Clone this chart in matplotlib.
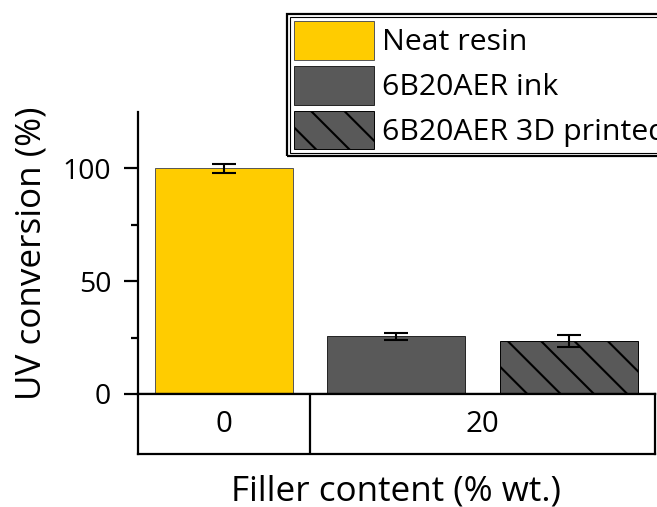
import matplotlib
matplotlib.use("Agg")
import matplotlib.pyplot as plt
from matplotlib.patches import Rectangle

# ---- data ----
series_labels = ["Neat resin", "6B20AER ink", "6B20AER 3D printed"]
bar_values = [100.0, 25.5, 23.5]
bar_errors = [2.1, 1.5, 2.5]
group_labels = ["0", "20"]
y_ticks = [0, 50, 100]

colors = ["#FFCC00", "#595959", "#595959"]
edge_colors = ["#555555", "#222222", "black"]
hatches = [None, None, "\\\\"]

DPI = 200
plt.rcParams['font.family'] = ['Open Sans', 'DejaVu Sans']
plt.rcParams['hatch.linewidth'] = 0.75

fig = plt.figure(figsize=(657 / DPI, 507 / DPI), dpi=DPI)
W, H = 657, 507

def fr(x0, y0, x1, y1):
    return [x0 / W, 1 - y1 / H, (x1 - x0) / W, (y1 - y0) / H]

ax = fig.add_axes(fr(137.5, 112, 655, 394))
axb = fig.add_axes(fr(137.5, 394, 655, 453.5))

positions = list(range(len(bar_values)))
for i, (v, e) in enumerate(zip(bar_values, bar_errors)):
    ax.bar(positions[i], v, width=0.8, color=colors[i], edgecolor=edge_colors[i],
           linewidth=0.35, hatch=hatches[i], label=series_labels[i], zorder=2)
    ax.errorbar(positions[i], v, yerr=e, fmt="none", ecolor="black",
                elinewidth=0.75, capsize=4.3, capthick=0.75, zorder=3)

ax.set_xlim(-0.5, 2.5)
ax.set_ylim(0, 125)
ax.set_yticks(y_ticks)
ax.set_yticks([25, 75], minor=True)
ax.set_xticks([])
for s in ["top", "right"]:
    ax.spines[s].set_visible(False)
for s in ["left", "bottom"]:
    ax.spines[s].set_linewidth(0.8)
ax.tick_params(axis="y", which="major", direction="out", length=5, width=0.8,
               labelsize=10.2, pad=4.5)
ax.tick_params(axis="y", which="minor", direction="out", length=2.5, width=0.8)
ax.set_ylabel("UV conversion (%)", fontsize=12.6, labelpad=5)

# category box below
axb.set_xlim(-0.5, 2.5)
axb.set_ylim(0, 1)
axb.set_xticks([])
axb.set_yticks([])
for s in axb.spines.values():
    s.set_linewidth(0.8)
axb.axvline(0.5, color="black", linewidth=0.8)
axb.text(0, 0.48, group_labels[0], ha="center", va="center", fontsize=10.6)
axb.text(1.5, 0.48, group_labels[1], ha="center", va="center", fontsize=10.6)
axb.set_xlabel("Filler content (% wt.)", fontsize=12.6, labelpad=7.5)

leg = ax.legend(loc="upper left", bbox_to_anchor=(290 / W, 1 - 17 / H),
                bbox_transform=fig.transFigure, borderaxespad=0,
                fontsize=10.9, frameon=True, fancybox=False, edgecolor="black",
                handlelength=2.66, handleheight=1.6, handletextpad=0.26,
                labelspacing=0.2, borderpad=0.12, framealpha=1)
leg.get_frame().set_linewidth(0.4)

fig.canvas.draw()
bb = leg.get_window_extent()
pad = 3
outer = Rectangle((bb.x0 - pad, bb.y0 - pad), bb.width + 2 * pad, bb.height + 2 * pad,
                  transform=None, fill=False, edgecolor="black", linewidth=0.8,
                  zorder=10)
fig.patches.append(outer)

fig.savefig("out.png", dpi=DPI)
